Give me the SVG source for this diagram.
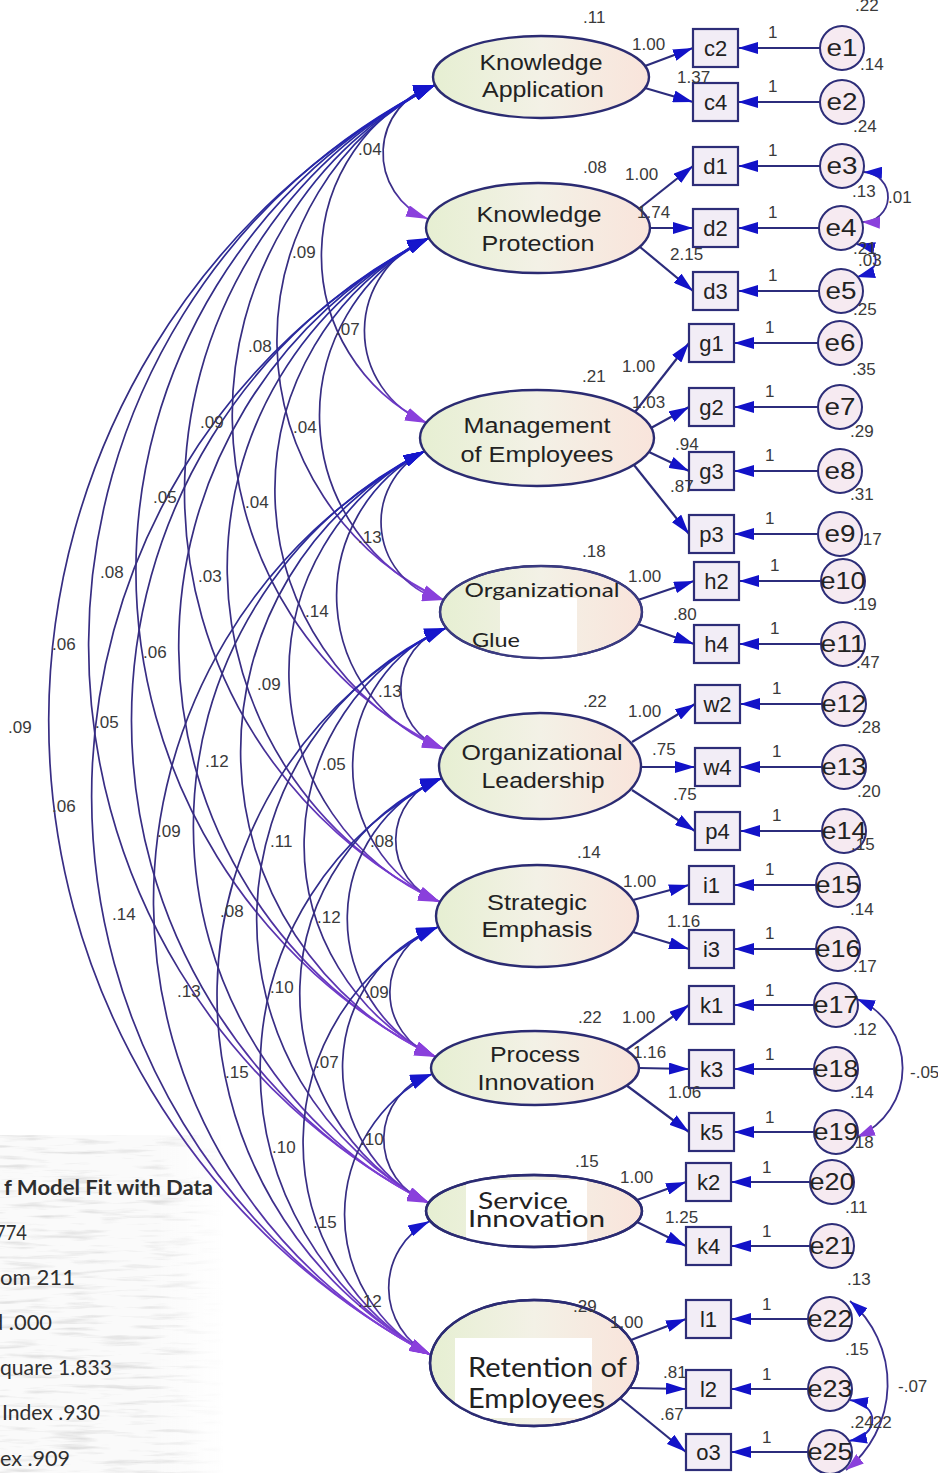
<svg xmlns="http://www.w3.org/2000/svg" width="938" height="1473" viewBox="0 0 938 1473">
<defs>
  <linearGradient id="latfill" x1="0" y1="0" x2="1" y2="0">
    <stop offset="0" stop-color="#e6efd2"/>
    <stop offset="0.5" stop-color="#f3f1e6"/>
    <stop offset="1" stop-color="#f9e4db"/>
  </linearGradient>
  <linearGradient id="covg" x1="0" y1="0" x2="0" y2="1">
    <stop offset="0" stop-color="#1c1cc8"/>
    <stop offset="0.07" stop-color="#2a2aa0"/>
    <stop offset="0.25" stop-color="#352d80"/>
    <stop offset="0.78" stop-color="#3a2d86"/>
    <stop offset="0.92" stop-color="#6a38c4"/>
    <stop offset="1" stop-color="#8c44e0"/>
  </linearGradient>
  <linearGradient id="fadeR" x1="0" y1="0" x2="1" y2="0">
    <stop offset="0.7" stop-color="#fff"/>
    <stop offset="1" stop-color="#000"/>
  </linearGradient>
  <filter id="grain" x="0" y="0" width="1" height="1">
    <feTurbulence type="fractalNoise" baseFrequency="0.02 0.2" numOctaves="3" seed="11" result="n"/>
    <feColorMatrix in="n" type="matrix" values="0 0 0 0 0.6  0 0 0 0 0.6  0 0 0 0 0.6  3 0 0 0 -1.55" result="s"/>
    <feComposite in="s" in2="SourceGraphic" operator="in" result="c"/>
    <feMerge><feMergeNode in="SourceGraphic"/><feMergeNode in="c"/></feMerge>
  </filter>
  <mask id="fitmask"><rect x="0" y="1135" width="225" height="338" fill="url(#fadeR)"/></mask>
  <clipPath id="clipOG"><ellipse cx="541" cy="612" rx="101" ry="46"/></clipPath>
  <clipPath id="clipSI"><ellipse cx="534" cy="1211" rx="108" ry="36"/></clipPath>
  <clipPath id="clipRE"><ellipse cx="534" cy="1363" rx="104" ry="63"/></clipPath>
  <marker id="arr" viewBox="0 0 20 12" refX="20" refY="6" markerWidth="20" markerHeight="12" markerUnits="userSpaceOnUse" orient="auto">
    <path d="M0,0 L20,6 L0,12 z" fill="#1212c8"/>
  </marker>
  <marker id="cvb" viewBox="0 0 22 12" refX="22" refY="6" markerWidth="22" markerHeight="12" markerUnits="userSpaceOnUse" orient="auto-start-reverse">
    <path d="M0,0 L22,6 L0,12 z" fill="#1616cc"/>
  </marker>
  <marker id="cvp" viewBox="0 0 22 12" refX="22" refY="6" markerWidth="22" markerHeight="12" markerUnits="userSpaceOnUse" orient="auto">
    <path d="M0,0 L22,6 L0,12 z" fill="#8a40dc"/>
  </marker>
  <marker id="ecb" viewBox="0 0 18 12" refX="18" refY="6" markerWidth="18" markerHeight="12" markerUnits="userSpaceOnUse" orient="auto-start-reverse">
    <path d="M0,0 L18,6 L0,12 z" fill="#1616cc"/>
  </marker>
  <marker id="ecp" viewBox="0 0 18 12" refX="18" refY="6" markerWidth="18" markerHeight="12" markerUnits="userSpaceOnUse" orient="auto">
    <path d="M0,0 L18,6 L0,12 z" fill="#8a40dc"/>
  </marker>
  <style>
    .lat { fill: url(#latfill); stroke: #2b2b72; stroke-width: 2.4; }
    .box { fill: #f2edf6; stroke: #2d2d78; stroke-width: 2.2; }
    .err { fill: #f6eaf1; stroke: #2d2d78; stroke-width: 2; }
    .ld { fill: none; stroke: #2c2c7c; stroke-width: 2.2; marker-end: url(#arr); }
    .cov { fill: none; stroke: url(#covg); stroke-width: 1.7; marker-start: url(#cvb); marker-end: url(#cvp); }
    .ecov { fill: none; stroke: #3a2f8c; stroke-width: 1.8; marker-start: url(#ecb); marker-end: url(#ecp); }
    .ecov2 { fill: none; stroke: #2b2bb0; stroke-width: 1.8; marker-start: url(#ecb); marker-end: url(#ecb); }
    .num { font-family: "Liberation Sans", Arial, sans-serif; font-size: 17px; fill: #3a3a3a; }
    .nm { font-family: "Liberation Sans", Arial, sans-serif; font-size: 22px; fill: #222; text-anchor: middle; }
    .cal { font-family: Lato, "Open Sans", sans-serif; fill: #222; }
    .obs { font-family: "Liberation Sans", Arial, sans-serif; font-size: 22px; fill: #222; text-anchor: middle; }
    .etx { font-family: "Liberation Sans", Arial, sans-serif; font-size: 23px; fill: #222; text-anchor: middle; }
    .fit { font-family: Lato, "Open Sans", sans-serif; font-size: 21px; fill: #2f2f2f; }
  </style>
</defs>

<rect width="938" height="1473" fill="#ffffff"/>

<!-- model fit summary (cropped on the left) -->
<g id="fit-stats">
  <g mask="url(#fitmask)" opacity="0.6">
    <rect x="0" y="1135" width="225" height="338" fill="#f7f7f7" filter="url(#grain)"/>
  </g>
  <text class="fit" x="4" y="1195" font-weight="bold" textLength="209" lengthAdjust="spacingAndGlyphs">f Model Fit with Data</text>
  <text class="fit" x="-5" y="1240" textLength="32" lengthAdjust="spacingAndGlyphs">774</text>
  <text class="fit" x="0" y="1285" textLength="75" lengthAdjust="spacingAndGlyphs">om 211</text>
  <text class="fit" x="-9" y="1330" textLength="61" lengthAdjust="spacingAndGlyphs">d .000</text>
  <text class="fit" x="0" y="1375" textLength="112" lengthAdjust="spacingAndGlyphs">quare 1.833</text>
  <text class="fit" x="2" y="1420" textLength="98" lengthAdjust="spacingAndGlyphs">Index .930</text>
  <text class="fit" x="0" y="1466" textLength="70" lengthAdjust="spacingAndGlyphs">ex .909</text>
</g>

<!-- covariances between latent factors -->
<g id="connectors">
  <g id="covariances">
    <path class="cov" d="M435,85 A70.7,70.7 0 0 0 428,219"/>
    <path class="cov" d="M435,85 A185.2,185.2 0 0 0 427,423"/>
    <path class="cov" d="M435,85 A285.3,285.3 0 0 0 444,600"/>
    <path class="cov" d="M435,85 A369.6,369.6 0 0 0 444,749"/>
    <path class="cov" d="M435,85 A456.3,456.3 0 0 0 440,902"/>
    <path class="cov" d="M435,85 A544,544 0 0 0 436,1057"/>
    <path class="cov" d="M435,85 A626.7,626.7 0 0 0 429,1203"/>
    <path class="cov" d="M435,85 A716.8,716.8 0 0 0 431,1355"/>
    <path class="cov" d="M429,238 A99.1,99.1 0 0 0 427,423"/>
    <path class="cov" d="M429,238 A198.8,198.8 0 0 0 444,600"/>
    <path class="cov" d="M429,238 A283,283 0 0 0 444,749"/>
    <path class="cov" d="M429,238 A369.6,369.6 0 0 0 440,902"/>
    <path class="cov" d="M429,238 A457.3,457.3 0 0 0 436,1057"/>
    <path class="cov" d="M429,238 A540,540 0 0 0 429,1203"/>
    <path class="cov" d="M429,238 A630.1,630.1 0 0 0 431,1355"/>
    <path class="cov" d="M425,451 A79.6,79.6 0 0 0 444,600"/>
    <path class="cov" d="M425,451 A162.9,162.9 0 0 0 444,749"/>
    <path class="cov" d="M425,451 A249.1,249.1 0 0 0 440,902"/>
    <path class="cov" d="M425,451 A336.8,336.8 0 0 0 436,1057"/>
    <path class="cov" d="M425,451 A419.4,419.4 0 0 0 429,1203"/>
    <path class="cov" d="M425,451 A509.4,509.4 0 0 0 431,1355"/>
    <path class="cov" d="M446,628 A63.5,63.5 0 0 0 444,749"/>
    <path class="cov" d="M446,628 A149.1,149.1 0 0 0 440,902"/>
    <path class="cov" d="M446,628 A236.6,236.6 0 0 0 436,1057"/>
    <path class="cov" d="M446,628 A319.2,319.2 0 0 0 429,1203"/>
    <path class="cov" d="M446,628 A409.2,409.2 0 0 0 431,1355"/>
    <path class="cov" d="M442,778 A65.1,65.1 0 0 0 440,902"/>
    <path class="cov" d="M442,778 A152,152 0 0 0 436,1057"/>
    <path class="cov" d="M442,778 A234.4,234.4 0 0 0 429,1203"/>
    <path class="cov" d="M442,778 A324.3,324.3 0 0 0 431,1355"/>
    <path class="cov" d="M438,927 A68.4,68.4 0 0 0 436,1057"/>
    <path class="cov" d="M438,927 A150.3,150.3 0 0 0 429,1203"/>
    <path class="cov" d="M438,927 A240,240 0 0 0 431,1355"/>
    <path class="cov" d="M432,1074 A67.9,67.9 0 0 0 429,1203"/>
    <path class="cov" d="M432,1074 A157,157 0 0 0 431,1355"/>
    <path class="cov" d="M430,1221 A74.6,74.6 0 0 0 431,1355"/>
  </g>

  <!-- factor loadings -->
  <g id="loadings">
    <path class="ld" d="M645,66 L693,48"/>
    <path class="ld" d="M645,88 L693,102"/>
    <path class="ld" d="M640,208 L693,166"/>
    <path class="ld" d="M650,228 L693,228"/>
    <path class="ld" d="M640,247 L693,291"/>
    <path class="ld" d="M635,412 L689,343"/>
    <path class="ld" d="M651,428 L689,407"/>
    <path class="ld" d="M649,452 L689,471"/>
    <path class="ld" d="M634,465 L689,534"/>
    <path class="ld" d="M638,600 L694,581"/>
    <path class="ld" d="M638,624 L694,644"/>
    <path class="ld" d="M632,742 L695,704"/>
    <path class="ld" d="M641,767 L695,767"/>
    <path class="ld" d="M632,790 L695,831"/>
    <path class="ld" d="M633,900 L689,885"/>
    <path class="ld" d="M633,932 L689,949"/>
    <path class="ld" d="M626,1050 L689,1005"/>
    <path class="ld" d="M639,1068 L689,1069"/>
    <path class="ld" d="M626,1085 L689,1132"/>
    <path class="ld" d="M637,1200 L686,1182"/>
    <path class="ld" d="M637,1222 L686,1246"/>
    <path class="ld" d="M631,1340 L686,1319"/>
    <path class="ld" d="M630,1388 L686,1389"/>
    <path class="ld" d="M620,1398 L686,1452"/>
  </g>

  <!-- error terms into indicators -->
  <g id="error-paths">
    <path class="ld" d="M820,48 L738,48"/>
    <path class="ld" d="M820,102 L738,102"/>
    <path class="ld" d="M820,166 L738,166"/>
    <path class="ld" d="M819,228 L738,228"/>
    <path class="ld" d="M819,291 L738,291"/>
    <path class="ld" d="M818,343 L734,343"/>
    <path class="ld" d="M818,407 L734,407"/>
    <path class="ld" d="M818,471 L734,471"/>
    <path class="ld" d="M818,534 L734,534"/>
    <path class="ld" d="M821,581 L739,581"/>
    <path class="ld" d="M821,644 L739,644"/>
    <path class="ld" d="M822,704 L740,704"/>
    <path class="ld" d="M822,767 L740,767"/>
    <path class="ld" d="M822,831 L740,831"/>
    <path class="ld" d="M816,885 L734,885"/>
    <path class="ld" d="M816,949 L734,949"/>
    <path class="ld" d="M814,1005 L734,1005"/>
    <path class="ld" d="M814,1069 L734,1069"/>
    <path class="ld" d="M814,1132 L734,1132"/>
    <path class="ld" d="M810,1182 L731,1182"/>
    <path class="ld" d="M810,1246 L731,1246"/>
    <path class="ld" d="M808,1319 L731,1319"/>
    <path class="ld" d="M808,1389 L731,1389"/>
    <path class="ld" d="M808,1452 L731,1452"/>
  </g>

  <!-- correlated error terms -->
  <g id="error-covariances">
    <path class="ecov" d="M864,172 A25,25 0 0 1 862,222"/>
    <path class="ecov2" d="M857,244 C882,250 882,270 857,277"/>
    <path class="ecov" d="M857,999 A75,75 0 0 1 857,1137"/>
    <path class="ecov" d="M850,1301 A110,110 0 0 1 846,1470"/>
    <path class="ecov2" d="M850,1400 C880,1405 880,1435 849,1441"/>
  </g>
</g>

<!-- latent factors -->
<g id="lat-ka">
  <ellipse class="lat" cx="541" cy="77" rx="108" ry="41"/>
  <text class="nm" x="541" y="70" textLength="123" lengthAdjust="spacingAndGlyphs">Knowledge</text>
  <text class="nm" x="543" y="97" textLength="122" lengthAdjust="spacingAndGlyphs">Application</text>
</g>
<g id="lat-kp">
  <ellipse class="lat" cx="538" cy="228" rx="112" ry="45"/>
  <text class="nm" x="539" y="222" textLength="125" lengthAdjust="spacingAndGlyphs">Knowledge</text>
  <text class="nm" x="538" y="251" textLength="113" lengthAdjust="spacingAndGlyphs">Protection</text>
</g>
<g id="lat-me">
  <ellipse class="lat" cx="537" cy="438" rx="117" ry="48"/>
  <text class="nm" x="537" y="433" textLength="147" lengthAdjust="spacingAndGlyphs">Management</text>
  <text class="nm" x="537" y="462" textLength="153" lengthAdjust="spacingAndGlyphs">of Employees</text>
</g>
<g id="lat-og">
  <ellipse class="lat" cx="541" cy="612" rx="101" ry="46"/>
  <rect x="500" y="598" width="77" height="62" fill="#ffffff" clip-path="url(#clipOG)"/>
  <ellipse cx="541" cy="612" rx="101" ry="46" fill="none" stroke="#3a3a80" stroke-width="2.2"/>
  <text class="cal" x="542" y="597" font-size="20" text-anchor="middle" fill="#3a3a3a" textLength="155" lengthAdjust="spacingAndGlyphs">Organizational</text>
  <text class="cal" x="472" y="647" font-size="20" fill="#3a3a3a" textLength="48" lengthAdjust="spacingAndGlyphs">Glue</text>
</g>
<g id="lat-ol">
  <ellipse class="lat" cx="540" cy="766" rx="101" ry="53"/>
  <text class="nm" x="542" y="760" fill="#3c3c3c" textLength="161" lengthAdjust="spacingAndGlyphs">Organizational</text>
  <text class="nm" x="543" y="788" fill="#3c3c3c" textLength="123" lengthAdjust="spacingAndGlyphs">Leadership</text>
</g>
<g id="lat-se">
  <ellipse class="lat" cx="537" cy="916" rx="101" ry="51"/>
  <text class="nm" x="537" y="910" fill="#3c3c3c" textLength="100" lengthAdjust="spacingAndGlyphs">Strategic</text>
  <text class="nm" x="537" y="937" fill="#3c3c3c" textLength="111" lengthAdjust="spacingAndGlyphs">Emphasis</text>
</g>
<g id="lat-pi">
  <ellipse class="lat" cx="535" cy="1068" rx="104" ry="37"/>
  <text class="nm" x="535" y="1062" fill="#3c3c3c" textLength="90" lengthAdjust="spacingAndGlyphs">Process</text>
  <text class="nm" x="536" y="1090" fill="#3c3c3c" textLength="117" lengthAdjust="spacingAndGlyphs">Innovation</text>
</g>
<g id="lat-si">
  <ellipse class="lat" cx="534" cy="1211" rx="108" ry="36"/>
  <rect x="466" y="1180" width="121" height="65" fill="#ffffff" clip-path="url(#clipSI)"/>
  <ellipse cx="534" cy="1211" rx="108" ry="36" fill="none" stroke="#2b2b72" stroke-width="2.4"/>
  <text class="cal" x="478" y="1209" font-size="23" textLength="90" lengthAdjust="spacingAndGlyphs">Service</text>
  <text class="cal" x="468" y="1227" font-size="23" textLength="137" lengthAdjust="spacingAndGlyphs">Innovation</text>
</g>
<g id="lat-re">
  <ellipse class="lat" cx="534" cy="1363" rx="104" ry="63"/>
  <rect x="455" y="1338" width="137" height="80" fill="#ffffff" clip-path="url(#clipRE)"/>
  <ellipse cx="534" cy="1363" rx="104" ry="63" fill="none" stroke="#2b2b72" stroke-width="2.4"/>
  <text class="cal" x="468" y="1377" font-size="26" textLength="159" lengthAdjust="spacingAndGlyphs">Retention of</text>
  <text class="cal" x="468" y="1408" font-size="26" textLength="137" lengthAdjust="spacingAndGlyphs">Employees</text>
</g>

<!-- observed indicators -->
<g id="ind-c2"><rect class="box" x="693" y="29" width="45" height="38"/><text class="obs" x="715.5" y="56">c2</text></g>
<g id="ind-c4"><rect class="box" x="693" y="83" width="45" height="38"/><text class="obs" x="715.5" y="110">c4</text></g>
<g id="ind-d1"><rect class="box" x="693" y="147" width="45" height="38"/><text class="obs" x="715.5" y="174">d1</text></g>
<g id="ind-d2"><rect class="box" x="693" y="209" width="45" height="38"/><text class="obs" x="715.5" y="236">d2</text></g>
<g id="ind-d3"><rect class="box" x="693" y="272" width="45" height="38"/><text class="obs" x="715.5" y="299">d3</text></g>
<g id="ind-g1"><rect class="box" x="689" y="324" width="45" height="38"/><text class="obs" x="711.5" y="351">g1</text></g>
<g id="ind-g2"><rect class="box" x="689" y="388" width="45" height="38"/><text class="obs" x="711.5" y="415">g2</text></g>
<g id="ind-g3"><rect class="box" x="689" y="452" width="45" height="38"/><text class="obs" x="711.5" y="479">g3</text></g>
<g id="ind-p3"><rect class="box" x="689" y="515" width="45" height="38"/><text class="obs" x="711.5" y="542">p3</text></g>
<g id="ind-h2"><rect class="box" x="694" y="562" width="45" height="38"/><text class="obs" x="716.5" y="589">h2</text></g>
<g id="ind-h4"><rect class="box" x="694" y="625" width="45" height="38"/><text class="obs" x="716.5" y="652">h4</text></g>
<g id="ind-w2"><rect class="box" x="695" y="685" width="45" height="38"/><text class="obs" x="717.5" y="712">w2</text></g>
<g id="ind-w4"><rect class="box" x="695" y="748" width="45" height="38"/><text class="obs" x="717.5" y="775">w4</text></g>
<g id="ind-p4"><rect class="box" x="695" y="812" width="45" height="38"/><text class="obs" x="717.5" y="839">p4</text></g>
<g id="ind-i1"><rect class="box" x="689" y="866" width="45" height="38"/><text class="obs" x="711.5" y="893">i1</text></g>
<g id="ind-i3"><rect class="box" x="689" y="930" width="45" height="38"/><text class="obs" x="711.5" y="957">i3</text></g>
<g id="ind-k1"><rect class="box" x="689" y="986" width="45" height="38"/><text class="obs" x="711.5" y="1013">k1</text></g>
<g id="ind-k3"><rect class="box" x="689" y="1050" width="45" height="38"/><text class="obs" x="711.5" y="1077">k3</text></g>
<g id="ind-k5"><rect class="box" x="689" y="1113" width="45" height="38"/><text class="obs" x="711.5" y="1140">k5</text></g>
<g id="ind-k2"><rect class="box" x="686" y="1163" width="45" height="38"/><text class="obs" x="708.5" y="1190">k2</text></g>
<g id="ind-k4"><rect class="box" x="686" y="1227" width="45" height="38"/><text class="obs" x="708.5" y="1254">k4</text></g>
<g id="ind-l1"><rect class="box" x="686" y="1300" width="45" height="38"/><text class="obs" x="708.5" y="1327">l1</text></g>
<g id="ind-l2"><rect class="box" x="686" y="1370" width="45" height="38"/><text class="obs" x="708.5" y="1397">l2</text></g>
<g id="ind-o3"><rect class="box" x="686" y="1434" width="45" height="36"/><text class="obs" x="708.5" y="1460">o3</text></g>

<!-- error terms -->
<g id="err-e1"><circle class="err" cx="842" cy="48" r="22"/><text class="etx" x="842" y="56" textLength="31" lengthAdjust="spacingAndGlyphs">e1</text></g>
<g id="err-e2"><circle class="err" cx="842" cy="102" r="22"/><text class="etx" x="842" y="110" textLength="31" lengthAdjust="spacingAndGlyphs">e2</text></g>
<g id="err-e3"><circle class="err" cx="842" cy="166" r="22"/><text class="etx" x="842" y="174" textLength="31" lengthAdjust="spacingAndGlyphs">e3</text></g>
<g id="err-e4"><circle class="err" cx="841" cy="228" r="22"/><text class="etx" x="841" y="236" textLength="31" lengthAdjust="spacingAndGlyphs">e4</text></g>
<g id="err-e5"><circle class="err" cx="841" cy="291" r="22"/><text class="etx" x="841" y="299" textLength="31" lengthAdjust="spacingAndGlyphs">e5</text></g>
<g id="err-e6"><circle class="err" cx="840" cy="343" r="22"/><text class="etx" x="840" y="351" textLength="31" lengthAdjust="spacingAndGlyphs">e6</text></g>
<g id="err-e7"><circle class="err" cx="840" cy="407" r="22"/><text class="etx" x="840" y="415" textLength="31" lengthAdjust="spacingAndGlyphs">e7</text></g>
<g id="err-e8"><circle class="err" cx="840" cy="471" r="22"/><text class="etx" x="840" y="479" textLength="31" lengthAdjust="spacingAndGlyphs">e8</text></g>
<g id="err-e9"><circle class="err" cx="840" cy="534" r="22"/><text class="etx" x="840" y="542" textLength="31" lengthAdjust="spacingAndGlyphs">e9</text></g>
<g id="err-e10"><circle class="err" cx="843" cy="581" r="22"/><text class="etx" x="843" y="589" textLength="45" lengthAdjust="spacingAndGlyphs">e10</text></g>
<g id="err-e11"><circle class="err" cx="843" cy="644" r="22"/><text class="etx" x="843" y="652" textLength="45" lengthAdjust="spacingAndGlyphs">e11</text></g>
<g id="err-e12"><circle class="err" cx="844" cy="704" r="22"/><text class="etx" x="844" y="712" textLength="45" lengthAdjust="spacingAndGlyphs">e12</text></g>
<g id="err-e13"><circle class="err" cx="844" cy="767" r="22"/><text class="etx" x="844" y="775" textLength="45" lengthAdjust="spacingAndGlyphs">e13</text></g>
<g id="err-e14"><circle class="err" cx="844" cy="831" r="22"/><text class="etx" x="844" y="839" textLength="45" lengthAdjust="spacingAndGlyphs">e14</text></g>
<g id="err-e15"><circle class="err" cx="838" cy="885" r="22"/><text class="etx" x="838" y="893" textLength="45" lengthAdjust="spacingAndGlyphs">e15</text></g>
<g id="err-e16"><circle class="err" cx="838" cy="949" r="22"/><text class="etx" x="838" y="957" textLength="45" lengthAdjust="spacingAndGlyphs">e16</text></g>
<g id="err-e17"><circle class="err" cx="836" cy="1005" r="22"/><text class="etx" x="836" y="1013" textLength="45" lengthAdjust="spacingAndGlyphs">e17</text></g>
<g id="err-e18"><circle class="err" cx="836" cy="1069" r="22"/><text class="etx" x="836" y="1077" textLength="45" lengthAdjust="spacingAndGlyphs">e18</text></g>
<g id="err-e19"><circle class="err" cx="836" cy="1132" r="22"/><text class="etx" x="836" y="1140" textLength="45" lengthAdjust="spacingAndGlyphs">e19</text></g>
<g id="err-e20"><circle class="err" cx="832" cy="1182" r="22"/><text class="etx" x="832" y="1190" textLength="45" lengthAdjust="spacingAndGlyphs">e20</text></g>
<g id="err-e21"><circle class="err" cx="832" cy="1246" r="22"/><text class="etx" x="832" y="1254" textLength="45" lengthAdjust="spacingAndGlyphs">e21</text></g>
<g id="err-e22"><circle class="err" cx="830" cy="1319" r="22"/><text class="etx" x="830" y="1327" textLength="45" lengthAdjust="spacingAndGlyphs">e22</text></g>
<g id="err-e23"><circle class="err" cx="830" cy="1389" r="22"/><text class="etx" x="830" y="1397" textLength="45" lengthAdjust="spacingAndGlyphs">e23</text></g>
<g id="err-e25"><circle class="err" cx="830" cy="1452" r="22"/><text class="etx" x="830" y="1460" textLength="45" lengthAdjust="spacingAndGlyphs">e25</text></g>

<!-- estimates -->
<g id="estimates" class="num">
  <!-- covariance estimates -->
  <text x="358" y="155">.04</text>
  <text x="292" y="258">.09</text>
  <text x="336" y="335">.07</text>
  <text x="248" y="352">.08</text>
  <text x="200" y="428">.09</text>
  <text x="293" y="433">.04</text>
  <text x="153" y="503">.05</text>
  <text x="245" y="508">.04</text>
  <text x="358" y="543">.13</text>
  <text x="100" y="578">.08</text>
  <text x="198" y="582">.03</text>
  <text x="305" y="617">.14</text>
  <text x="52" y="650">.06</text>
  <text x="143" y="658">.06</text>
  <text x="257" y="690">.09</text>
  <text x="378" y="697">.13</text>
  <text x="8" y="733">.09</text>
  <text x="95" y="728">.05</text>
  <text x="205" y="767">.12</text>
  <text x="322" y="770">.05</text>
  <text x="52" y="812">.06</text>
  <text x="157" y="837">.09</text>
  <text x="270" y="847">.11</text>
  <text x="370" y="847">.08</text>
  <text x="112" y="920">.14</text>
  <text x="220" y="917">.08</text>
  <text x="317" y="923">.12</text>
  <text x="177" y="997">.13</text>
  <text x="270" y="993">.10</text>
  <text x="365" y="998">.09</text>
  <text x="225" y="1078">.15</text>
  <text x="315" y="1068">.07</text>
  <text x="272" y="1153">.10</text>
  <text x="360" y="1145">.10</text>
  <text x="313" y="1228">.15</text>
  <text x="358" y="1307">.12</text>

  <!-- factor variances -->
  <text x="583" y="23">.11</text>
  <text x="583" y="173">.08</text>
  <text x="582" y="382">.21</text>
  <text x="582" y="557">.18</text>
  <text x="583" y="707">.22</text>
  <text x="577" y="858">.14</text>
  <text x="578" y="1023">.22</text>
  <text x="575" y="1167">.15</text>
  <text x="573" y="1312">.29</text>

  <!-- loadings -->
  <text x="632" y="50">1.00</text>
  <text x="677" y="83">1.37</text>
  <text x="625" y="180">1.00</text>
  <text x="637" y="218">1.74</text>
  <text x="670" y="260">2.15</text>
  <text x="622" y="372">1.00</text>
  <text x="632" y="408">1.03</text>
  <text x="675" y="450">.94</text>
  <text x="670" y="492">.87</text>
  <text x="628" y="582">1.00</text>
  <text x="673" y="620">.80</text>
  <text x="628" y="717">1.00</text>
  <text x="652" y="755">.75</text>
  <text x="673" y="800">.75</text>
  <text x="623" y="887">1.00</text>
  <text x="667" y="927">1.16</text>
  <text x="622" y="1023">1.00</text>
  <text x="633" y="1058">1.16</text>
  <text x="668" y="1098">1.06</text>
  <text x="620" y="1183">1.00</text>
  <text x="665" y="1223">1.25</text>
  <text x="610" y="1328">1.00</text>
  <text x="663" y="1378">.81</text>
  <text x="660" y="1420">.67</text>

  <!-- fixed error paths -->
  <text x="768" y="38">1</text>
  <text x="768" y="92">1</text>
  <text x="768" y="156">1</text>
  <text x="768" y="218">1</text>
  <text x="768" y="281">1</text>
  <text x="765" y="333">1</text>
  <text x="765" y="397">1</text>
  <text x="765" y="461">1</text>
  <text x="765" y="524">1</text>
  <text x="770" y="571">1</text>
  <text x="770" y="634">1</text>
  <text x="772" y="694">1</text>
  <text x="772" y="757">1</text>
  <text x="772" y="821">1</text>
  <text x="765" y="875">1</text>
  <text x="765" y="939">1</text>
  <text x="765" y="996">1</text>
  <text x="765" y="1060">1</text>
  <text x="765" y="1123">1</text>
  <text x="762" y="1173">1</text>
  <text x="762" y="1237">1</text>
  <text x="762" y="1310">1</text>
  <text x="762" y="1380">1</text>
  <text x="762" y="1443">1</text>

  <!-- error variances and error covariances -->
  <text x="855" y="11">.22</text>
  <text x="860" y="70">.14</text>
  <text x="853" y="132">.24</text>
  <text x="852" y="197">.13</text>
  <text x="888" y="203">.01</text>
  <text x="853" y="254">.21</text>
  <text x="858" y="266">.03</text>
  <text x="853" y="315">.25</text>
  <text x="852" y="375">.35</text>
  <text x="850" y="437">.29</text>
  <text x="850" y="500">.31</text>
  <text x="858" y="545">.17</text>
  <text x="853" y="610">.19</text>
  <text x="856" y="668">.47</text>
  <text x="857" y="733">.28</text>
  <text x="857" y="797">.20</text>
  <text x="851" y="850">.15</text>
  <text x="850" y="915">.14</text>
  <text x="853" y="972">.17</text>
  <text x="853" y="1035">.12</text>
  <text x="850" y="1098">.14</text>
  <text x="910" y="1078">-.05</text>
  <text x="850" y="1148">.18</text>
  <text x="845" y="1213">.11</text>
  <text x="847" y="1285">.13</text>
  <text x="845" y="1355">.15</text>
  <text x="898" y="1392">-.07</text>
  <text x="850" y="1428">.24</text>
  <text x="868" y="1428">.22</text>
</g>
</svg>
